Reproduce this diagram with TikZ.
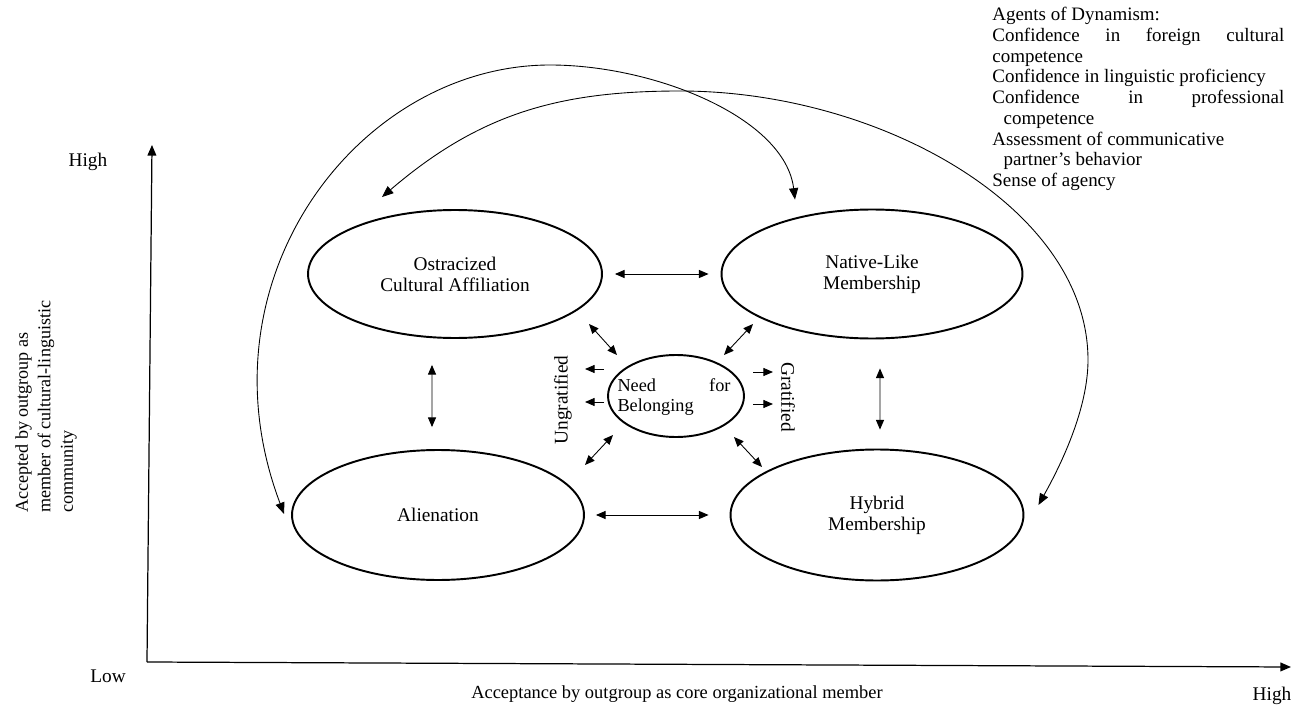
\documentclass[tikz,border=0pt]{standalone}
\usepackage{fontspec}
\setmainfont{Liberation Serif}
\usetikzlibrary{positioning,shapes.geometric,arrows.meta}
\hyphenpenalty=10000
\exhyphenpenalty=10000
\setlength{\parindent}{0pt}

\begin{document}
\begin{tikzpicture}[x=0.02cm,y=0.02cm,>={Triangle[length=5.5pt,width=4.6pt]}]
  \tikzset{
  state/.style={
    ellipse,
    draw=black,
    line width=1.1pt,
    inner sep=0pt,
    align=center,
    font=\fontsize{11}{12}\selectfont
  },
  link/.style={
    <->,
    line width=0.5pt
  },
  bigtip/.style={
    {Triangle[length=6.5pt,width=5.2pt]}-{Triangle[length=6.5pt,width=5.2pt]},
    line width=0.5pt
  },
  lbl/.style={
    font=\fontsize{11}{13}\selectfont
  }
}
\useasboundingbox (0,0) rectangle (1296,708);

% axes
\coordinate (origin) at (147,46);
\coordinate (ytop) at (152,563);
\coordinate (xend) at (1291,41);
\draw[-{Triangle[length=6pt,width=5pt]}, line width=0.7pt] (origin) -- (ytop);
\draw[-{Triangle[length=6pt,width=5pt]}, line width=0.7pt] (origin) -- (xend);
\node[lbl] at (88,546) (yhigh) {High};
\node[lbl] at (108,32) (ylow) {Low};
\node[lbl] at (1272,12) (xhigh) {High};
\node[font=\fontsize{10.5}{12}\selectfont] at (677,14)
  (xlabel) {Acceptance by outgroup as core organizational member};
\node[rotate=90, anchor=west, align=left, font=\fontsize{10.3}{12.8}\selectfont] at (46,189)
  (ylabel) {Accepted by outgroup as\\member of cultural-linguistic\\community};

% states
\node[state, minimum width=5.88cm, minimum height=2.56cm] at (455,434)
  (ostr) {Ostracized\\Cultural Affiliation};
\node[state, minimum width=6.02cm, minimum height=2.58cm] at (872,434)
  (native) {Native-Like\\Membership};
\node[state, minimum width=5.84cm, minimum height=2.6cm] at (438,193)
  (alien) {Alienation};
\node[state, minimum width=5.86cm, minimum height=2.62cm] at (877,193)
  (hybrid) {Hybrid\\Membership};
\node[state, minimum width=2.72cm, minimum height=1.64cm] at (676,312)
  (need) {};
\node[text width=2.26cm, align=justify, inner sep=0pt, font=\fontsize{10.4}{11.3}\selectfont] at (674,311)
  (needtext) {Need for\linebreak Belonging};

\node[lbl, rotate=90] at (563,308) (ungrat) {Ungratified};
\node[lbl, rotate=-90] at (788,311) (grat) {Gratified};

% agents
\node[anchor=north west, text width=5.84cm, align=justify, inner sep=0pt,
  font=\fontsize{10.8}{11.8}\selectfont] at (992,701)
  (agents) {Agents of Dynamism:\\
  Confidence in foreign cultural\linebreak competence\\
  Confidence in linguistic proficiency\\
  Confidence in professional\linebreak\hspace*{0.6em}competence\\
  Assessment of communicative\\\hspace*{0.6em}partner's behavior\\
  Sense of agency};

% links between states
\draw[link, shorten <=0.24cm, shorten >=0.24cm] (ostr.east) -- (native.west);
\draw[link] ([xshift=0.22cm]alien.east) -- ([xshift=-0.42cm]hybrid.west);
\draw[link] ([xshift=-0.46cm,yshift=-0.52cm]ostr.south) -- ([xshift=-0.12cm,yshift=0.44cm]alien.north);
\draw[link] ([xshift=0.16cm,yshift=-0.58cm]native.south) -- ([xshift=0.06cm,yshift=0.38cm]hybrid.north);

% around need
\draw[link] ([shift={(-59,41)}]need.center) -- ([shift={(-87,72)}]need.center);
\draw[link] ([shift={(48,41)}]need.center) -- ([shift={(77,72)}]need.center);
\draw[link] ([shift={(-63,-39)}]need.center) -- ([shift={(-91,-69)}]need.center);
\draw[link] ([shift={(58,-41)}]need.center) -- ([shift={(86,-71)}]need.center);
\draw[->, line width=0.5pt] ([shift={(-72,27)}]need.center) -- ([shift={(-91,27)}]need.center);
\draw[->, line width=0.5pt] ([shift={(-72,-6)}]need.center) -- ([shift={(-91,-6)}]need.center);
\draw[->, line width=0.5pt] ([shift={(77,24)}]need.center) -- ([shift={(97,24)}]need.center);
\draw[->, line width=0.5pt] ([shift={(77,-8)}]need.center) -- ([shift={(97,-8)}]need.center);

% long curves
\draw[bigtip] ([shift={(-7,1)}]alien.west) .. controls (195,430) and (360,643) .. (550,643)
  .. controls (655,643) and (785,590) .. ([shift={(-77,9)}]native.north);
\draw[bigtip] ([shift={(-73,12)}]ostr.north) .. controls (480,595) and (560,617) .. (680,617)
  .. controls (880,617) and (1088,500) .. (1088,348)
  .. controls (1088,300) and (1062,245) .. ([shift={(14,10)}]hybrid.east);

\end{tikzpicture}
\end{document}
